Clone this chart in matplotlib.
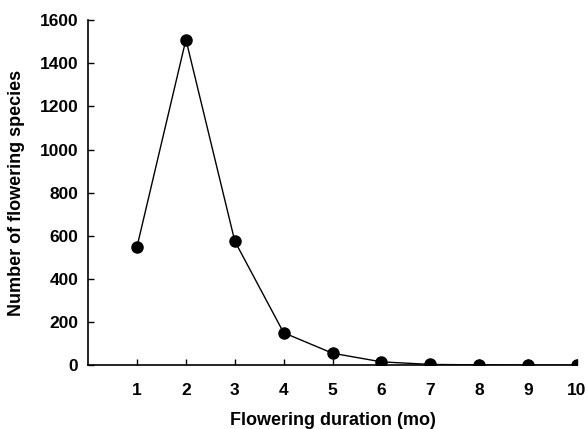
import matplotlib.pyplot as plt

plt.rcParams['font.family'] = ['Liberation Sans', 'DejaVu Sans']
plt.rcParams['font.weight'] = 'bold'

# data
duration = [1, 2, 3, 4, 5, 6, 7, 8, 9, 10]
species = [550, 1510, 575, 150, 55, 15, 3, 1, 0, 0]
yticks = [0, 200, 400, 600, 800, 1000, 1200, 1400, 1600]

fig = plt.figure(figsize=(5.88, 4.29), dpi=100)
ax = fig.add_axes([0.150, 0.149, 0.831, 0.804])

ax.plot(duration, species, color='black', lw=1, marker='o', ms=8)

ax.set_xlim(0, 10)
ax.set_ylim(0, 1600)
ax.set_xticks(duration)
ax.set_yticks(yticks)
ax.tick_params(direction='in', length=4, width=1, labelsize=12.5)
ax.tick_params(axis='x', pad=13)
ax.tick_params(axis='y', pad=7)
for lab in ax.get_xticklabels() + ax.get_yticklabels():
    lab.set_fontweight('bold')

ax.spines['top'].set_visible(False)
ax.spines['right'].set_visible(False)
ax.spines['left'].set_linewidth(1.2)
ax.spines['bottom'].set_linewidth(1.2)

ax.set_xlabel('Flowering duration (mo)', fontsize=13, fontweight='bold')
ax.xaxis.set_label_coords(0.5, -0.135)
ax.set_ylabel('Number of flowering species', fontsize=13, fontweight='bold')
ax.yaxis.set_label_coords(-0.13, 0.5)

fig.savefig('out.png', dpi=100)
